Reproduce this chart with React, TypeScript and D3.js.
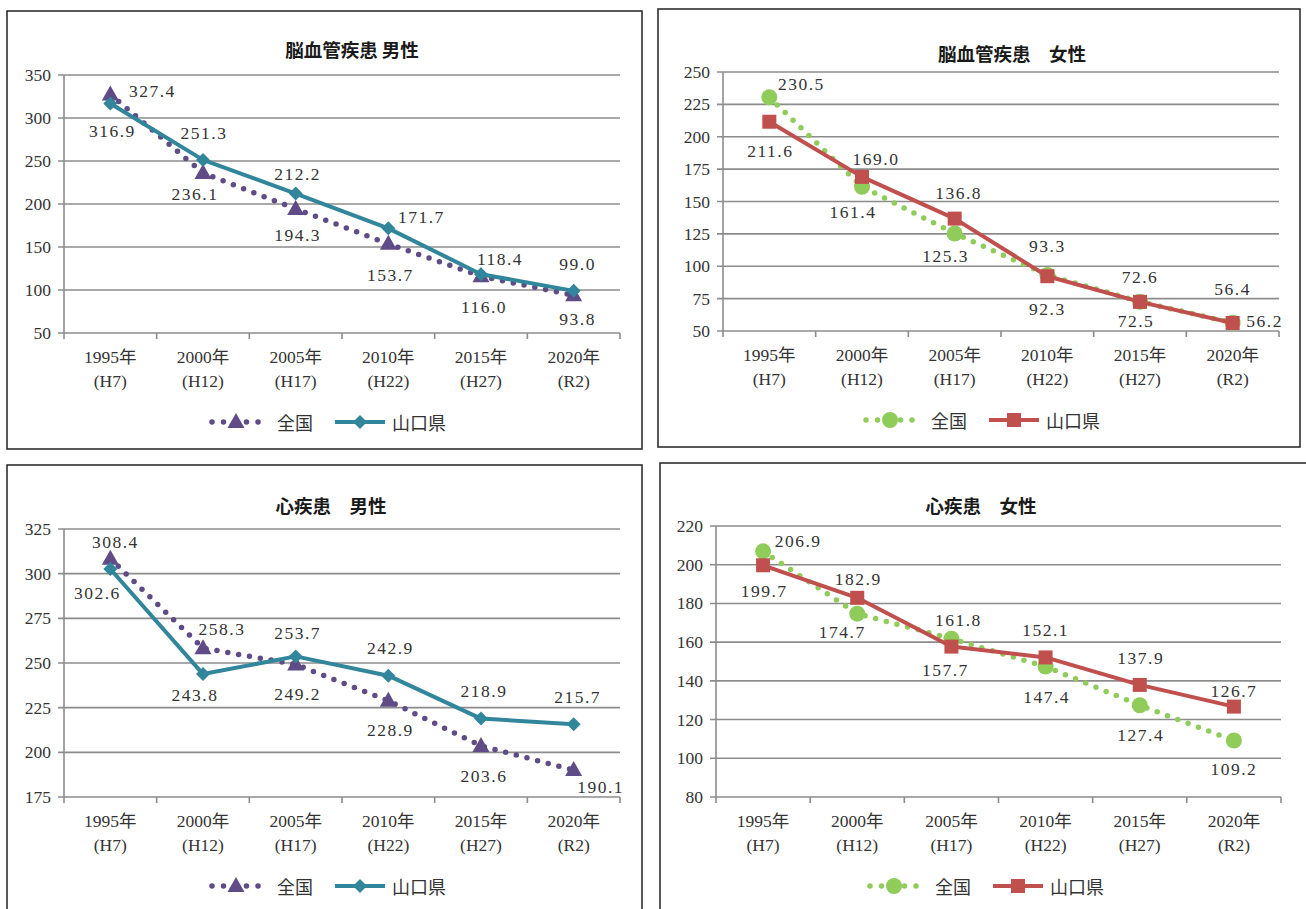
import React from 'react';
import * as d3 from 'd3';

// ---------- data ----------
const years = ['1995年', '2000年', '2005年', '2010年', '2015年', '2020年'];
const eras = ['(H7)', '(H12)', '(H17)', '(H22)', '(H27)', '(R2)'];
const seriesNames = ['全国', '山口県'];

const cvMaleNational = [327.4, 236.1, 194.3, 153.7, 116.0, 93.8];
const cvMaleYamaguchi = [316.9, 251.3, 212.2, 171.7, 118.4, 99.0];
const cvFemaleNational = [230.5, 161.4, 125.3, 93.3, 72.6, 56.4];
const cvFemaleYamaguchi = [211.6, 169.0, 136.8, 92.3, 72.5, 56.2];
const hdMaleNational = [308.4, 258.3, 249.2, 228.9, 203.6, 190.1];
const hdMaleYamaguchi = [302.6, 243.8, 253.7, 242.9, 218.9, 215.7];
const hdFemaleNational = [206.9, 174.7, 161.8, 147.4, 127.4, 109.2];
const hdFemaleYamaguchi = [199.7, 182.9, 157.7, 152.1, 137.9, 126.7];

const cvMaleTicks = [50, 100, 150, 200, 250, 300, 350];
const cvFemaleTicks = [50, 75, 100, 125, 150, 175, 200, 225, 250];
const hdMaleTicks = [175, 200, 225, 250, 275, 300, 325];
const hdFemaleTicks = [80, 100, 120, 140, 160, 180, 200, 220];

// ---------- label placement (pixel offsets from each point) ----------
const cvMaleNatOff = [[42, -3], [-8, 21], [2, 26], [2, 31], [3, 31], [4, 24]];
const cvMaleYamOff = [[2, 28], [1, -27], [2, -20], [33, -11], [19, -15], [4, -27]];
const cvFemNatOff = [[32, -13], [-9, 25], [-9, 23], [0, -29], [0, -25], [0, -34]];
const cvFemYamOff = [[1, 29], [14, -18], [4, -26], [0, 33], [-4, 19], [32, -2]];
const hdMaleNatOff = [[5, -17], [19, -19], [2, 30], [2, 29], [3, 30], [27, 17]];
const hdMaleYamOff = [[-13, 24], [-8, 21], [2, -23], [2, -28], [3, -28], [4, -27]];
const hdFemNatOff = [[35, -10], [-15, 18], [7, -19], [1, 30], [1, 30], [0, 29]];
const hdFemYamOff = [[1, 26], [1, -19], [-6, 23], [0, -27], [1, -27], [0, -16]];

const PURPLE = '#5F4B86';
const TEAL = '#31869B';
const GREEN = '#8FCC5A';
const RED = '#C0504D';

const NUM_FONT = "'Liberation Serif', 'Noto Sans CJK JP', serif";
const CJK_FONT = "'Noto Sans CJK JP', sans-serif";

type Shape = 'triangle' | 'diamond' | 'circle' | 'square';

function Marker({ shape, x, y, color }: { shape: Shape; x: number; y: number; color: string }) {
  if (shape === 'triangle')
    return <path d={`M${x},${y - 9}L${x + 8.5},${y + 6}L${x - 8.5},${y + 6}Z`} fill={color} />;
  if (shape === 'diamond')
    return <path d={`M${x},${y - 7}L${x + 7},${y}L${x},${y + 7}L${x - 7},${y}Z`} fill={color} />;
  if (shape === 'circle') return <circle cx={x} cy={y} r={8} fill={color} />;
  return <rect x={x - 7} y={y - 7} width={14} height={14} fill={color} />;
}

interface PanelProps {
  box: { x: number; y: number; w: number; h: number };
  plot: { left: number; right: number; top: number; bottom: number };
  ticks: number[];
  title: string;
  titleX: number;
  titleY: number;
  national: number[];
  yamaguchi: number[];
  natOff: number[][];
  yamOff: number[][];
  natColor: string;
  yamColor: string;
  natShape: Shape;
  yamShape: Shape;
  legendX: number;
}

function Panel(p: PanelProps) {
  const x = d3.scaleBand<string>().domain(years).range([p.plot.left, p.plot.right]).padding(0);
  const y = d3
    .scaleLinear()
    .domain([p.ticks[0], p.ticks[p.ticks.length - 1]])
    .range([p.plot.bottom, p.plot.top]);
  const cx = (i: number) => (x(years[i]) as number) + x.bandwidth() / 2;
  const line = d3
    .line<number>()
    .x((_, i) => cx(i))
    .y((d) => y(d));
  const boundaries = years.map((c) => x(c) as number).concat([p.plot.right]);
  const fmt = (v: number) => v.toFixed(1);
  const ly = p.plot.bottom + 89;
  const s = p.legendX;

  return (
    <g>
      <rect x={p.box.x} y={p.box.y} width={p.box.w} height={p.box.h} fill="#fff" stroke="#222" strokeWidth={1.5} />
      <text
        x={p.titleX}
        y={p.titleY}
        textAnchor="middle"
        dominantBaseline="central"
        fontFamily={CJK_FONT}
        fontWeight="bold"
        fontSize={18.5}
        fill="#1a1a1a"
      >
        {p.title}
      </text>
      {/* gridlines */}
      {p.ticks.map((t) => (
        <g key={t}>
          <line x1={p.plot.left - 6} x2={p.plot.right} y1={y(t)} y2={y(t)} stroke="#8c8c8c" strokeWidth={1.6} />
          <text
            x={p.plot.left - 13}
            y={y(t)}
            textAnchor="end"
            dominantBaseline="central"
            fontFamily={NUM_FONT}
            fontSize={17.5}
            fill="#333"
          >
            {t}
          </text>
        </g>
      ))}
      {/* axes */}
      <line x1={p.plot.left} x2={p.plot.left} y1={p.plot.top} y2={p.plot.bottom} stroke="#8c8c8c" strokeWidth={1.6} />
      {boundaries.map((b, i) => (
        <line key={i} x1={b} x2={b} y1={p.plot.bottom} y2={p.plot.bottom + 6} stroke="#8c8c8c" strokeWidth={1.6} />
      ))}
      {years.map((c, i) => (
        <g key={c}>
          <text
            x={cx(i)}
            y={p.plot.bottom + 24}
            textAnchor="middle"
            dominantBaseline="central"
            fontFamily={NUM_FONT}
            fontSize={17.5}
            fill="#333"
          >
            {c}
          </text>
          <text
            x={cx(i)}
            y={p.plot.bottom + 48}
            textAnchor="middle"
            dominantBaseline="central"
            fontFamily={NUM_FONT}
            fontSize={17.5}
            fill="#333"
          >
            {eras[i]}
          </text>
        </g>
      ))}
      {/* national series */}
      <path
        d={line(p.national) as string}
        fill="none"
        stroke={p.natColor}
        strokeWidth={5.5}
        strokeDasharray="0 11"
        strokeLinecap="round"
      />
      {p.national.map((v, i) => (
        <Marker key={i} shape={p.natShape} x={cx(i)} y={y(v)} color={p.natColor} />
      ))}
      {/* yamaguchi series */}
      <path d={line(p.yamaguchi) as string} fill="none" stroke={p.yamColor} strokeWidth={4} strokeLinejoin="round" />
      {p.yamaguchi.map((v, i) => (
        <Marker key={i} shape={p.yamShape} x={cx(i)} y={y(v)} color={p.yamColor} />
      ))}
      {/* labels */}
      {p.national.map((v, i) => (
        <text
          key={'n' + i}
          x={cx(i) + p.natOff[i][0]}
          y={y(v) + p.natOff[i][1]}
          textAnchor="middle"
          dominantBaseline="central"
          fontFamily={NUM_FONT}
          fontSize={17.5}
          letterSpacing={1.5}
          fill="#333"
        >
          {fmt(v)}
        </text>
      ))}
      {p.yamaguchi.map((v, i) => (
        <text
          key={'y' + i}
          x={cx(i) + p.yamOff[i][0]}
          y={y(v) + p.yamOff[i][1]}
          textAnchor="middle"
          dominantBaseline="central"
          fontFamily={NUM_FONT}
          fontSize={17.5}
          letterSpacing={1.5}
          fill="#333"
        >
          {fmt(v)}
        </text>
      ))}
      {/* legend */}
      <line
        x1={s + 4}
        x2={s + 51}
        y1={ly}
        y2={ly}
        stroke={p.natColor}
        strokeWidth={5.5}
        strokeDasharray="0 11.5"
        strokeLinecap="round"
      />
      <Marker shape={p.natShape} x={s + 28} y={ly} color={p.natColor} />
      <text x={s + 69} y={ly} dominantBaseline="central" fontFamily={CJK_FONT} fontSize={18} fill="#333">
        {seriesNames[0]}
      </text>
      <line x1={s + 127} x2={s + 177} y1={ly} y2={ly} stroke={p.yamColor} strokeWidth={4} />
      <Marker shape={p.yamShape} x={s + 152} y={ly} color={p.yamColor} />
      <text x={s + 184} y={ly} dominantBaseline="central" fontFamily={CJK_FONT} fontSize={18} fill="#333">
        {seriesNames[1]}
      </text>
    </g>
  );
}

export default function App() {
  return (
    <svg
      width={1306}
      height={909}
      style={{ position: 'absolute', left: 0, top: 0, display: 'block', background: '#fff' }}
    >
      <Panel
        box={{ x: 7, y: 11, w: 635, h: 438 }}
        plot={{ left: 64, right: 620, top: 75, bottom: 333 }}
        ticks={cvMaleTicks}
        title="脳血管疾患 男性"
        titleX={352}
        titleY={49}
        national={cvMaleNational}
        yamaguchi={cvMaleYamaguchi}
        natOff={cvMaleNatOff}
        yamOff={cvMaleYamOff}
        natColor={PURPLE}
        yamColor={TEAL}
        natShape="triangle"
        yamShape="diamond"
        legendX={208}
      />
      <Panel
        box={{ x: 658, y: 9, w: 642, h: 438 }}
        plot={{ left: 723, right: 1279, top: 72, bottom: 331 }}
        ticks={cvFemaleTicks}
        title="脳血管疾患　女性"
        titleX={1012}
        titleY={53}
        national={cvFemaleNational}
        yamaguchi={cvFemaleYamaguchi}
        natOff={cvFemNatOff}
        yamOff={cvFemYamOff}
        natColor={GREEN}
        yamColor={RED}
        natShape="circle"
        yamShape="square"
        legendX={862}
      />
      <Panel
        box={{ x: 7, y: 465, w: 635, h: 460 }}
        plot={{ left: 64, right: 620, top: 529, bottom: 797 }}
        ticks={hdMaleTicks}
        title="心疾患　男性"
        titleX={331}
        titleY={505}
        national={hdMaleNational}
        yamaguchi={hdMaleYamaguchi}
        natOff={hdMaleNatOff}
        yamOff={hdMaleYamOff}
        natColor={PURPLE}
        yamColor={TEAL}
        natShape="triangle"
        yamShape="diamond"
        legendX={208}
      />
      <Panel
        box={{ x: 660, y: 463, w: 660, h: 460 }}
        plot={{ left: 716, right: 1281, top: 526, bottom: 797 }}
        ticks={hdFemaleTicks}
        title="心疾患　女性"
        titleX={981}
        titleY={505}
        national={hdFemaleNational}
        yamaguchi={hdFemaleYamaguchi}
        natOff={hdFemNatOff}
        yamOff={hdFemYamOff}
        natColor={GREEN}
        yamColor={RED}
        natShape="circle"
        yamShape="square"
        legendX={866}
      />
    </svg>
  );
}
